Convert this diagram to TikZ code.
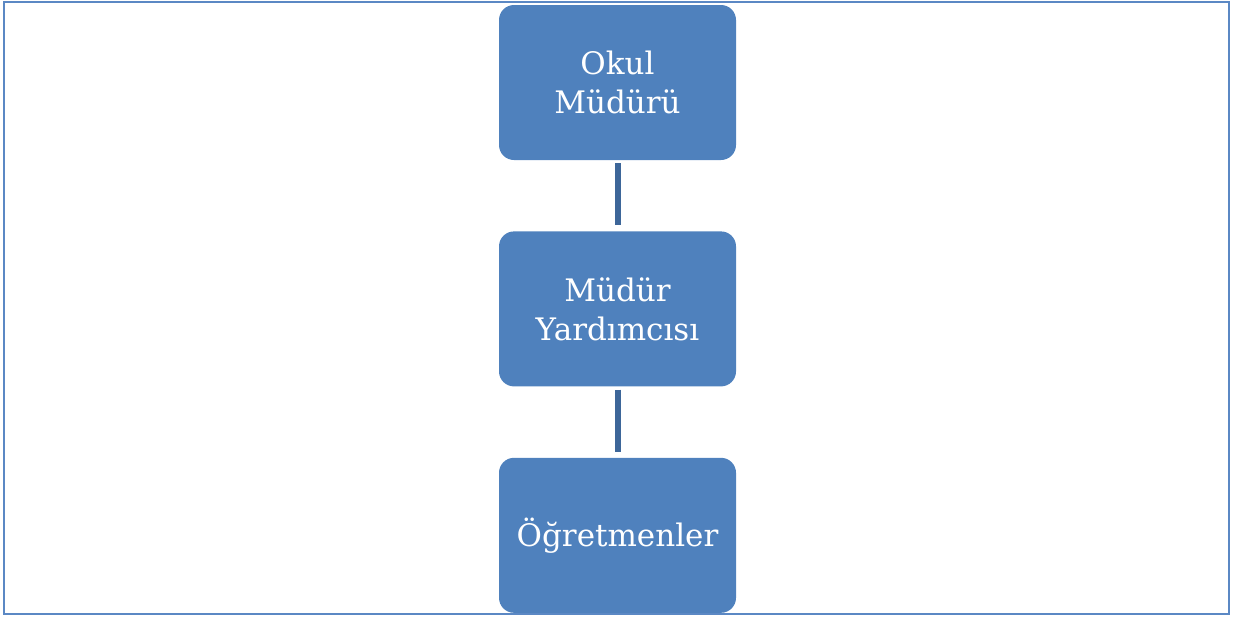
\documentclass[tikz,border=0pt]{standalone}
\usepackage{fontspec}
\setmainfont{DejaVu Serif}
\usetikzlibrary{positioning}
\definecolor{boxblue}{HTML}{4F81BD}
\definecolor{linkblue}{HTML}{3D6699}
\definecolor{frameblue}{HTML}{5B88C4}

\begin{document}
\begin{tikzpicture}[x=1pt,y=-1pt,
    node distance=71pt,
    rolebox/.style={rectangle, rounded corners=15pt, fill=boxblue,
      minimum width=237pt, minimum height=155pt, text width=220pt,
      align=center, text=white, inner sep=0pt,
      font=\fontsize{31}{39}\selectfont},
    link/.style={draw=linkblue, line width=6pt, shorten <=3pt, shorten >=6pt}]
    \useasboundingbox (0,0) rectangle (1233,619);
    \draw[frameblue, line width=2pt] (4,2) rectangle (1229,614);

    \node[rolebox] (mudur) at (617.5,82.5) {Okul\\Müdürü};
    \node[rolebox, below=of mudur] (yardimci) {Müdür\\Yardımcısı};
    \node[rolebox, below=of yardimci] (ogretmen) {Öğretmenler};

    \draw[link] (mudur) -- (yardimci);
    \draw[link] (yardimci) -- (ogretmen);
  \end{tikzpicture}
\end{document}
